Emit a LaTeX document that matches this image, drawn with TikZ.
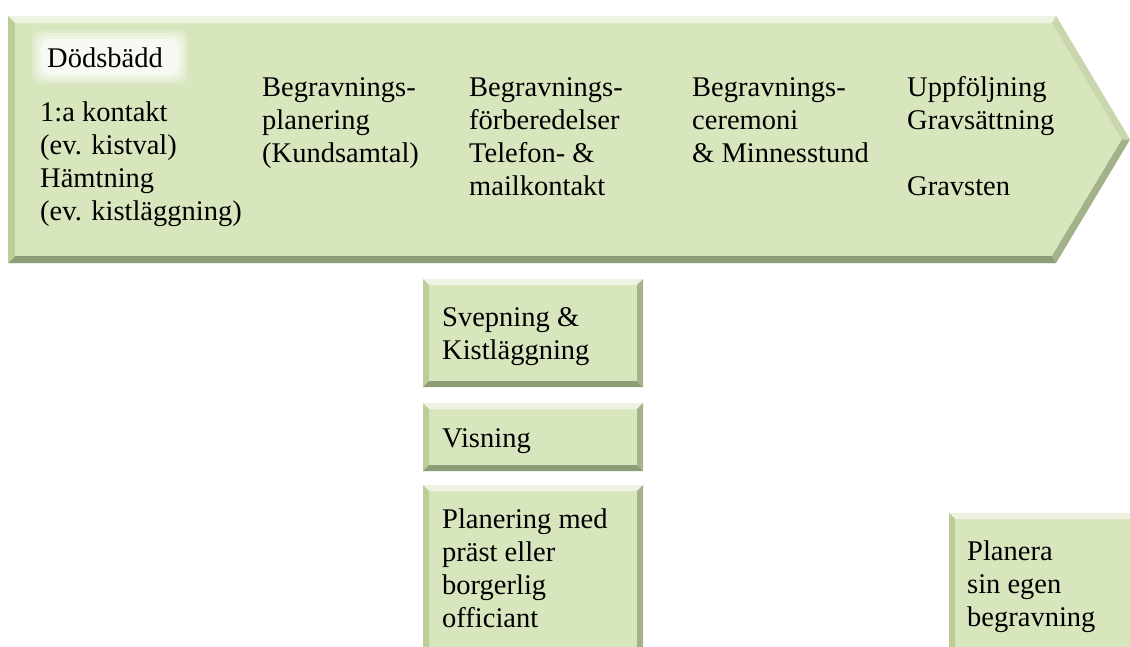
\documentclass[tikz,border=0pt]{standalone}
\usepackage{fontspec}
\setmainfont{Liberation Serif}
\definecolor{boxfill}{HTML}{D8E6BE}
\definecolor{bevtop}{HTML}{EDF3E0}
\definecolor{bevleft}{HTML}{BCCD98}
\definecolor{bevbot}{HTML}{8E9C78}
\definecolor{bevright}{HTML}{A3B28A}
\definecolor{bevup}{HTML}{C9D6AE}
\tikzset{
  txt/.style={anchor=north west, inner sep=0pt, align=left, font=\fontsize{28.5}{33}\selectfont},
}
% bevelled rectangle: #1 x1, #2 y1, #3 x2, #4 y2
\newcommand{\bevbox}[4]{%
  \fill[boxfill] (#1,#2) rectangle (#3,#4);
  \fill[bevtop] (#1,#2) -- (#3,#2) -- ({#3-6},{#2+6}) -- ({#1+6},{#2+6}) -- cycle;
  \fill[bevleft] (#1,#2) -- ({#1+6},{#2+6}) -- ({#1+6},{#4-6}) -- (#1,#4) -- cycle;
  \fill[bevbot] (#1,#4) -- ({#1+6},{#4-6}) -- ({#3-6},{#4-6}) -- (#3,#4) -- cycle;
  \fill[bevright] (#3,#2) -- ({#3-6},{#2+6}) -- ({#3-6},{#4-6}) -- (#3,#4) -- cycle;
}
\begin{document}
\begin{tikzpicture}[x=1pt,y=-1pt]
\useasboundingbox (0,0) rectangle (1130,646);
\clip (0,0) rectangle (1130,646);
\fill[white] (0,0) rectangle (1130,646);
% main arrow
\coordinate (oTL) at (8,16);
\coordinate (oTR) at (1056,16);
\coordinate (oTip) at (1130,139.5);
\coordinate (oBR) at (1056,263);
\coordinate (oBL) at (8,263);
\coordinate (iTL) at (15,23);
\coordinate (iTR) at (1052,23);
\coordinate (iTip) at (1122,139.5);
\coordinate (iBR) at (1052,256);
\coordinate (iBL) at (15,256);
\fill[boxfill] (oTL) -- (oTR) -- (oTip) -- (oBR) -- (oBL) -- cycle;
\fill[bevtop] (oTL) -- (oTR) -- (iTR) -- (iTL) -- cycle;
\fill[bevup] (oTR) -- (oTip) -- (iTip) -- (iTR) -- cycle;
\fill[bevright] (oTip) -- (oBR) -- (iBR) -- (iTip) -- cycle;
\fill[bevbot] (oBR) -- (oBL) -- (iBL) -- (iBR) -- cycle;
\fill[bevleft] (oTL) -- (iTL) -- (iBL) -- (oBL) -- cycle;
% glow behind Dödsbädd
\foreach \d/\o in {10/0.2,7/0.25,4/0.35,1/0.5}
  \fill[white, opacity=\o, rounded corners=10pt] ({42-\d},{40-\d}) rectangle ({178+\d},{74+\d});
% small boxes
\bevbox{423}{279}{643}{387}
\bevbox{423}{403}{643}{471}
\bevbox{423}{485}{643}{670}
\bevbox{949}{513}{1160}{670}
% texts
\node[txt] (dod) at (47,48) {Dödsbädd};
\node[txt] (c1) at (40,102) {1:a kontakt\\(ev. kistval)\\Hämtning\\(ev. kistläggning)};
\node[txt] (c2) at (262,77) {Begravnings-\\planering\\(Kundsamtal)};
\node[txt] (c3) at (469,77) {Begravnings-\\förberedelser\\Telefon- \&\\mailkontakt};
\node[txt] (c4) at (692,77) {Begravnings-\\ceremoni\\\& Minnesstund};
\node[txt] (c5) at (907,76) {Uppföljning\\Gravsättning\\[33pt]Gravsten};
\node[txt] (svep) at (442,307) {Svepning \&\\Kistläggning};
\node[txt] (visn) at (442,428) {Visning};
\node[txt] (plan) at (442,509) {Planering med\\präst eller\\borgerlig\\officiant};
\node[txt] (egen) at (967,541) {Planera\\sin egen\\begravning};
\end{tikzpicture}
\end{document}
